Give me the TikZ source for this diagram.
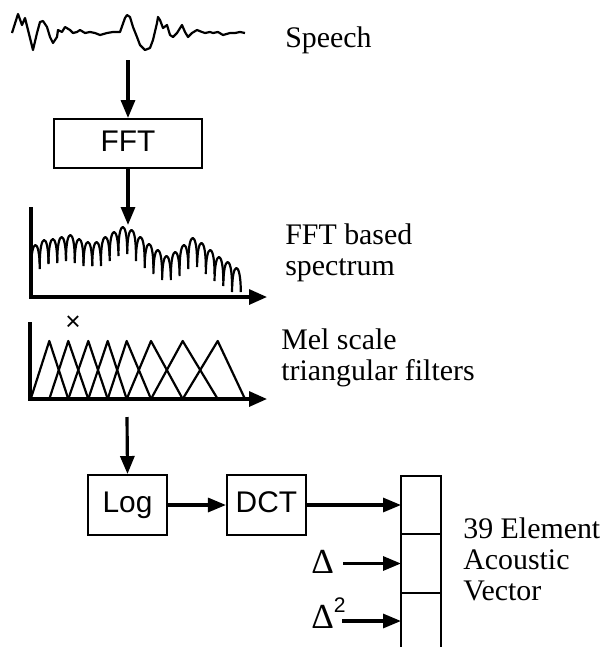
\documentclass[tikz,border=0pt]{standalone}
\usepackage{fontspec}
\setmainfont{Liberation Serif}
\setsansfont{Liberation Sans}
\usetikzlibrary{arrows.meta,positioning,calc}
\tikzset{
  procbox/.style={rectangle,draw=black,line width=1.1pt,font=\sffamily\fontsize{17}{17}\selectfont,
    inner sep=0pt,text height=12.5pt,text depth=3.5pt},
  cell/.style={rectangle,draw=black,line width=1.1pt,minimum width=8mm,inner sep=0pt,outer sep=0pt},
  flow/.style={line width=1.8pt,-{Triangle[length=3.6mm,width=2.8mm]}},
  axisline/.style={line width=1.8pt,-{Triangle[length=3.6mm,width=3mm]}},
  trace/.style={line width=1.25pt,line join=round},
  lab/.style={font=\fontsize{17}{17.6}\selectfont,inner sep=0pt,align=left},
  dlab/.style={font=\fontsize{20}{20}\selectfont,inner sep=0pt},
}

\begin{document}
\begin{tikzpicture}[x=0.2mm,y=-0.2mm]
  \useasboundingbox (0,0) rectangle (605,647);
  % speech waveform
  \draw[trace] (12,33) -- (18,14) -- (22,25) -- (25,18) -- (28,30) -- (33,50) -- (37,33)
    -- (40,22) -- (43,21) -- (47,27) -- (50,37) -- (53,43) -- (57,37) -- (58,30) -- (62,32)
    -- (65,27) -- (70,30) -- (73,33) -- (77,32) -- (80,30) -- (85,33) -- (90,32) -- (95,33)
    -- (100,35) -- (107,33) -- (113,32) -- (120,32) -- (125,18) -- (127,15) -- (130,17)
    -- (133,27) -- (137,37) -- (140,45) -- (145,50) -- (150,48) -- (153,40) -- (157,23)
    -- (158,17) -- (160,20) -- (163,28) -- (167,25) -- (170,35) -- (173,37) -- (177,33)
    -- (182,25) -- (185,32) -- (188,37) -- (192,33) -- (197,30) -- (202,32) -- (205,33)
    -- (210,32) -- (213,33) -- (218,32) -- (223,35) -- (230,33) -- (235,33) -- (240,32) -- (245,33);
  \coordinate (wave) at (128,60);
  \node[lab,anchor=base west] (speech) at (285,47) {Speech};

  \node[procbox,minimum width=29.6mm,minimum height=9.8mm] (fft) at (128,143.5) {FFT};
  \draw[flow] (wave) -- (fft.north);

  % spectrum
  \coordinate (spec) at (128,225);
  \draw[flow] (fft.south) -- (spec);
  \draw[axisline] (31,207) |- (267,297);
  \foreach \t [count=\i from 0] in {245,240,239,237,235,239,242,242,237,232,227,230,
                                    237,244,250,256,252,245,238,243,250,257,262,268} {
    \pgfmathsetmacro\c{35.4+8.74*\i}
    \draw[trace] (\c-4.37,\t+24) .. controls (\c-4.37,\t-8) and (\c+4.37,\t-8) .. (\c+4.37,\t+24);
  }
  \node[lab,anchor=base west] (speclab) at (285,275) {FFT based\\spectrum};

  % mel filter bank
  \draw[axisline] (30,322) |- (267,399);
  \foreach \a/\b/\c in {30.7/49.3/68.3, 49.3/68.3/88.3, 68.3/88.3/107.7, 88.3/107.7/126.7,
                        107.7/126.7/151, 126.7/151/182.7, 151/182.7/217.7, 182.7/217.7/245}
    \draw[trace] (\a,399) -- (\b,341) -- (\c,399);
  \node[font=\sffamily\fontsize{15}{15}\selectfont,inner sep=0pt] (xmark) at (73,323) {×};
  \node[lab,anchor=base west] (mellab) at (281,380) {Mel scale\\triangular filters};
  \coordinate (mel) at (127,417);

  % log, dct and feature vector
  \node[procbox,minimum width=15.8mm,minimum height=12mm] (logb) at (127.5,505) {Log};
  \node[procbox,minimum width=15.8mm,minimum height=12mm,right=11.6mm of logb] (dct) {DCT};
  \draw[flow] (mel) -- (logb.north);
  \draw[flow] (logb.east) -- (dct.west);

  \node[cell,minimum height=11.6mm] (v1) at (421,505) {};
  \node[cell,minimum height=11.8mm,below=0pt of v1] (v2) {};
  \draw[line width=1.1pt] (v2.south west) -- ++(0,60);
  \draw[line width=1.1pt] (v2.south east) -- ++(0,60);
  \coordinate (v3) at (401,621);
  \draw[flow] (dct.east) -- (v1.west);

  \node[dlab,anchor=base west] (d1) at (311,573) {Δ};
  \node[dlab,anchor=base west] (d2) at (311,628) {Δ\raisebox{9pt}{\sffamily\fontsize{12}{12}\selectfont 2}};
  \draw[flow] ($(d1.east |- v2.west)+(9,0)$) -- (v2.west);
  \draw[flow] ($(d2.east |- v3)+(-4,0)$) -- (v3);

  \node[lab,anchor=base west] (veclab) at (463,600) {39 Element\\Acoustic\\Vector};
\end{tikzpicture}
\end{document}
